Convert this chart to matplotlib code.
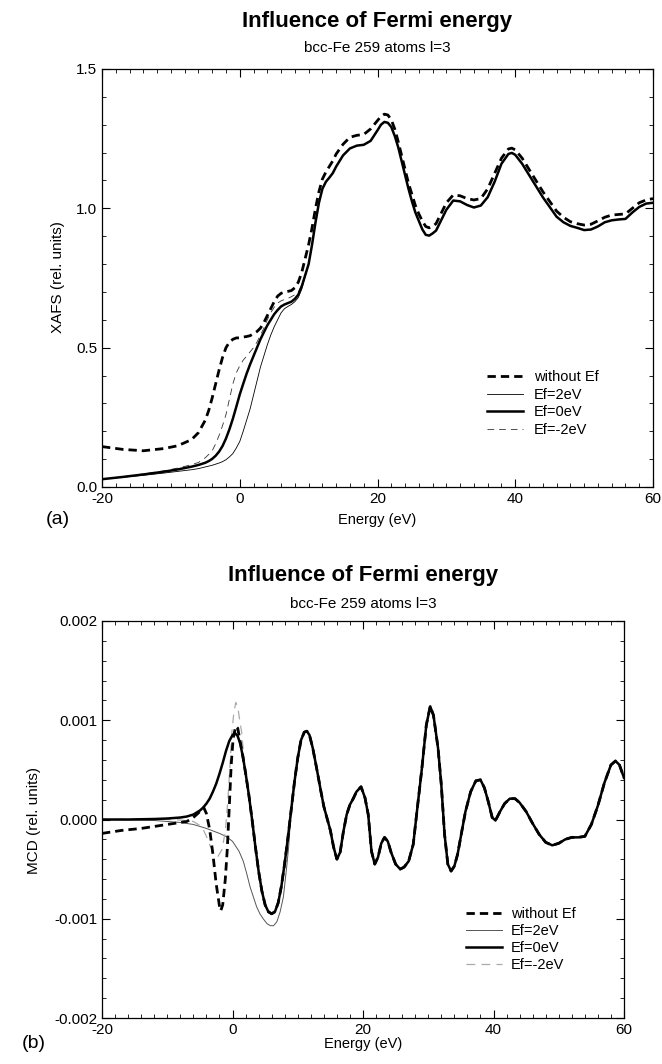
import matplotlib
matplotlib.use("Agg")
import matplotlib.pyplot as plt
from matplotlib.ticker import MultipleLocator, FormatStrFormatter

plt.rcParams['font.family'] = ['Liberation Sans', 'DejaVu Sans']
plt.rcParams['axes.unicode_minus'] = False

# ---- (a) XAFS data ----
# energies where the curves differ
e_lo = [-20, -17, -14, -11, -9, -7, -6, -5, -4.5, -4, -3.5, -3, -2.5, -2, -1.5, -1, -0.5,
        0, 0.5, 1, 1.5, 2, 2.5, 3, 3.5, 4, 4.5, 5, 5.5, 6, 6.5, 7, 7.5, 8, 8.5, 9, 9.5]
# energies where the Ef curves coincide
e_hi = [10, 10.5, 11, 11.5, 12, 12.5, 13, 13.5, 14, 15, 16, 17, 18, 19, 20, 20.5, 21, 21.5,
        22, 22.5, 23, 23.5, 24, 24.5, 25, 25.5, 26, 26.5, 27, 27.5, 28, 28.5, 29, 29.5, 30,
        31, 32, 33, 34, 35, 36, 37, 38, 39, 39.5, 40, 41, 42, 43, 44, 45, 46, 47, 48, 49,
        50, 51, 52, 53, 54, 55, 56, 57, 58, 59, 60]

xafs_noef_lo = [0.145, 0.135, 0.130, 0.138, 0.148, 0.170, 0.195, 0.240, 0.275, 0.320, 0.370,
                0.420, 0.465, 0.500, 0.520, 0.530, 0.535, 0.535, 0.538, 0.540, 0.543, 0.550,
                0.558, 0.570, 0.590, 0.615, 0.640, 0.665, 0.685, 0.695, 0.700, 0.702, 0.705,
                0.715, 0.735, 0.770, 0.820]
xafs_noef_hi = [0.870, 0.930, 1.000, 1.060, 1.105, 1.130, 1.150, 1.170, 1.195, 1.230, 1.255,
                1.262, 1.265, 1.285, 1.315, 1.330, 1.338, 1.335, 1.318, 1.285, 1.240, 1.190,
                1.140, 1.090, 1.050, 1.010, 0.980, 0.955, 0.935, 0.930, 0.935, 0.945, 0.970,
                0.995, 1.020, 1.048, 1.045, 1.035, 1.030, 1.035, 1.070, 1.125, 1.180, 1.213,
                1.216, 1.210, 1.180, 1.140, 1.100, 1.060, 1.025, 0.990, 0.968, 0.952, 0.945,
                0.940, 0.943, 0.955, 0.968, 0.976, 0.978, 0.980, 1.000, 1.020, 1.030, 1.035]

xafs_ef2_lo = [0.028, 0.035, 0.042, 0.050, 0.056, 0.062, 0.066, 0.072, 0.075, 0.078, 0.082,
               0.086, 0.091, 0.098, 0.108, 0.120, 0.140, 0.163, 0.200, 0.240, 0.280, 0.330,
               0.380, 0.430, 0.470, 0.510, 0.545, 0.575, 0.600, 0.625, 0.640, 0.648, 0.655,
               0.665, 0.680, 0.710, 0.755]
xafs_ef0_lo = [0.028, 0.036, 0.045, 0.055, 0.063, 0.073, 0.079, 0.087, 0.093, 0.101, 0.112,
               0.127, 0.147, 0.174, 0.207, 0.245, 0.288, 0.332, 0.370, 0.407, 0.440, 0.470,
               0.500, 0.530, 0.555, 0.580, 0.600, 0.620, 0.635, 0.648, 0.655, 0.660, 0.665,
               0.675, 0.690, 0.720, 0.760]
xafs_efm2_lo = [0.028, 0.037, 0.047, 0.058, 0.068, 0.080, 0.088, 0.105, 0.117, 0.130, 0.155,
                0.185, 0.220, 0.260, 0.315, 0.370, 0.410, 0.435, 0.455, 0.470, 0.485, 0.500,
                0.520, 0.545, 0.570, 0.600, 0.625, 0.645, 0.660, 0.668, 0.673, 0.677, 0.683,
                0.690, 0.700, 0.725, 0.760]
xafs_ef_hi = [0.800, 0.870, 0.950, 1.020, 1.070, 1.095, 1.110, 1.126, 1.150, 1.190, 1.215,
              1.225, 1.228, 1.242, 1.280, 1.300, 1.310, 1.307, 1.292, 1.260, 1.220, 1.170,
              1.120, 1.070, 1.025, 0.985, 0.955, 0.925, 0.905, 0.902, 0.910, 0.920, 0.945,
              0.970, 0.995, 1.028, 1.025, 1.012, 1.003, 1.010, 1.040, 1.095, 1.160, 1.195,
              1.199, 1.192, 1.160, 1.120, 1.080, 1.040, 1.005, 0.970, 0.950, 0.937, 0.930,
              0.922, 0.924, 0.935, 0.950, 0.957, 0.960, 0.962, 0.985, 1.005, 1.017, 1.020]

# ---- (b) MCD data (units of 1e-3) ----
e_mcd = [-20, -16, -12, -10, -8, -7, -6, -5, -4.5, -4, -3.5, -3, -2.5, -2, -1.5, -1, -0.5,
         0, 0.4, 0.8, 1.2, 1.6, 2, 2.5, 3, 3.5, 4, 4.5, 5, 5.5, 6, 6.5, 7, 7.5, 8, 8.5, 9,
         9.5, 10, 10.5, 11, 11.4, 11.8, 12.3, 13, 13.5, 14, 14.5, 15, 15.5, 16, 16.5, 17,
         17.5, 18, 18.5, 19, 19.7, 20.3, 20.8, 21.3, 21.8, 22.3, 22.8, 23.3, 23.8, 24.3, 25,
         25.7, 26.3, 27, 27.7, 28.3, 29, 29.7, 30.3, 30.8, 31.5, 32, 32.5, 33, 33.5, 34, 34.5,
         35, 35.7, 36.5, 37.3, 38, 38.6, 39.2, 39.8, 40.3, 41, 41.7, 42.5, 43.3, 44, 45, 46,
         47, 48, 49, 50, 51, 52, 53, 54, 55, 56, 57, 58, 58.7, 59.3, 60]
mcd_ef0 = [0.0, 0.0, 0.005, 0.01, 0.02, 0.03, 0.05, 0.09, 0.12, 0.16, 0.21, 0.28, 0.36, 0.46,
           0.57, 0.69, 0.79, 0.85, 0.87, 0.84, 0.76, 0.63, 0.47, 0.25, 0.0, -0.27, -0.52,
           -0.72, -0.86, -0.93, -0.95, -0.93, -0.84, -0.67, -0.44, -0.18, 0.10, 0.38, 0.62,
           0.80, 0.88, 0.89, 0.85, 0.72, 0.48, 0.30, 0.13, 0.01, -0.11, -0.28, -0.40, -0.33,
           -0.12, 0.05, 0.15, 0.21, 0.28, 0.33, 0.22, 0.05, -0.32, -0.45, -0.38, -0.24, -0.18,
           -0.22, -0.33, -0.45, -0.50, -0.48, -0.42, -0.25, 0.10, 0.50, 0.95, 1.14, 1.05, 0.72,
           0.35, -0.15, -0.45, -0.52, -0.47, -0.35, -0.17, 0.08, 0.28, 0.39, 0.40, 0.32, 0.18,
           0.02, -0.01, 0.08, 0.16, 0.21, 0.21, 0.17, 0.08, -0.04, -0.15, -0.23, -0.26, -0.24,
           -0.20, -0.18, -0.18, -0.17, -0.05, 0.14, 0.37, 0.55, 0.59, 0.55, 0.42]

# low-energy parts of the other curves (they join mcd_ef0 afterwards)
e_noef = [-20, -17, -14, -11, -8, -7, -6, -5, -4.4, -4, -3.5, -3, -2.5, -2, -1.8, -1.5, -1.1,
          -0.8, -0.5, -0.2, 0.1, 0.5, 0.8, 1.2, 1.6]
mcd_noef = [-0.14, -0.11, -0.09, -0.06, -0.03, -0.02, 0.02, 0.08, 0.12, 0.06, -0.10, -0.35,
            -0.65, -0.87, -0.92, -0.86, -0.60, -0.30, 0.12, 0.55, 0.82, 0.94, 0.92, 0.78, 0.63]

e_efm2 = [-20, -12, -8, -6, -5, -4.5, -4, -3.4, -2.8, -2.2, -1.6, -1.1, -0.7, -0.4, -0.1,
          0.2, 0.5, 0.8, 1.1, 1.4, 1.7, 2.0]
mcd_efm2 = [0.0, 0.005, -0.005, -0.02, -0.06, -0.10, -0.17, -0.27, -0.34, -0.37, -0.30, -0.12,
            0.20, 0.53, 0.88, 1.07, 1.18, 1.14, 1.00, 0.88, 0.66, 0.47]

e_ef2 = [-20, -12, -8, -6, -4, -2, -1, 0, 1, 1.65, 2.2, 2.7, 3.2, 3.7, 4.2, 4.7, 5.3, 5.8,
         6.3, 6.8, 7.3, 7.8, 8.3, 8.6, 9.0]
mcd_ef2 = [0.0, -0.01, -0.03, -0.05, -0.09, -0.14, -0.17, -0.22, -0.32, -0.42, -0.55, -0.68,
           -0.78, -0.88, -0.95, -1.00, -1.05, -1.07, -1.07, -1.03, -0.93, -0.78, -0.48, -0.28,
           0.10]

legend_labels = ["without Ef", "Ef=2eV", "Ef=0eV", "Ef=-2eV"]
title = "Influence of Fermi energy"
subtitle = "bcc-Fe 259 atoms l=3"


def join_ef0(e_part, v_part):
    # continue a low-energy part with the common Ef=0 curve
    e = list(e_part)
    v = list(v_part)
    for ei, vi in zip(e_mcd, mcd_ef0):
        if ei > e_part[-1]:
            e.append(ei)
            v.append(vi)
    return e, [x * 1e-3 for x in v]


W, H = 662, 1064
fig = plt.figure(figsize=(W / 100, H / 100), dpi=100)


def px_axes(l, t, r, b):
    return fig.add_axes([l / W, 1 - b / H, (r - l) / W, (b - t) / H])


def style(ax):
    ax.tick_params(which='both', direction='in', top=True, right=True, labelsize=11)
    ax.tick_params(which='major', length=6, width=0.8)
    ax.tick_params(which='minor', length=3, width=0.6)
    for s in ax.spines.values():
        s.set_linewidth(0.9)
    ax.xaxis.set_major_locator(MultipleLocator(20))
    ax.xaxis.set_minor_locator(MultipleLocator(2))


thick_dash = dict(color='black', lw=2.0, dashes=(3.0, 1.8))

# ---- panel (a) ----
ax1 = px_axes(102, 69, 653, 487)
ax1.plot(e_lo + e_hi, xafs_noef_lo + xafs_noef_hi, label=legend_labels[0], zorder=3,
         **thick_dash)
ax1.plot(e_lo + e_hi, xafs_ef2_lo + xafs_ef_hi, color='black', lw=0.6, zorder=2,
         label=legend_labels[1])
ax1.plot(e_lo + e_hi, xafs_ef0_lo + xafs_ef_hi, color='black', lw=1.8, zorder=4,
         label=legend_labels[2])
ax1.plot(e_lo + e_hi, xafs_efm2_lo + xafs_ef_hi, color='#333333', lw=0.6, dashes=(8, 6),
         zorder=2, label=legend_labels[3])
ax1.set_xlim(-20, 60)
ax1.set_ylim(0, 1.5)
style(ax1)
ax1.yaxis.set_major_locator(MultipleLocator(0.5))
ax1.yaxis.set_minor_locator(MultipleLocator(0.1))
ax1.yaxis.set_major_formatter(FormatStrFormatter('%.1f'))
ax1.legend(loc='upper left', bbox_to_anchor=(487 / W, 1 - 370 / H),
           bbox_transform=fig.transFigure, frameon=False, fontsize=10.5,
           handlelength=2.5, handletextpad=0.7, labelspacing=0.25, borderpad=0,
           borderaxespad=0)

# ---- panel (b) ----
ax2 = px_axes(102, 621, 624, 1018)
e, v = join_ef0(e_noef, mcd_noef)
ax2.plot(e, v, label=legend_labels[0], zorder=3, **thick_dash)
e, v = join_ef0(e_ef2, mcd_ef2)
ax2.plot(e, v, color='#555555', lw=0.7, zorder=2, label=legend_labels[1])
ax2.plot(e_mcd, [x * 1e-3 for x in mcd_ef0], color='black', lw=1.8, zorder=4,
         label=legend_labels[2])
e, v = join_ef0(e_efm2, mcd_efm2)
ax2.plot(e, v, color='#aaaaaa', lw=0.9, dashes=(7, 5), zorder=2, label=legend_labels[3])
ax2.set_xlim(-20, 60)
ax2.set_ylim(-0.002, 0.002)
style(ax2)
ax2.yaxis.set_major_locator(MultipleLocator(0.001))
ax2.yaxis.set_minor_locator(MultipleLocator(0.0002))
ax2.yaxis.set_major_formatter(FormatStrFormatter('%.3f'))
ax2.legend(loc='upper left', bbox_to_anchor=(466 / W, 1 - 907 / H),
           bbox_transform=fig.transFigure, frameon=False, fontsize=10.5,
           handlelength=2.5, handletextpad=0.6, labelspacing=0.2, borderpad=0,
           borderaxespad=0)

# ---- texts ----
fig.text(377 / W, 1 - 22 / H, title, ha='center', va='center', fontsize=16, fontweight='bold')
fig.text(377 / W, 1 - 48 / H, subtitle, ha='center', va='center', fontsize=11)
fig.text(377 / W, 1 - 520 / H, "Energy (eV)", ha='center', va='center', fontsize=10.5)
fig.text(58 / W, 1 - 277 / H, "XAFS (rel. units)", ha='center', va='center', rotation=90,
         fontsize=11)
fig.text(58 / W, 1 - 520 / H, "(a)", ha='center', va='center', fontsize=14)

fig.text(363 / W, 1 - 575 / H, title, ha='center', va='center', fontsize=16, fontweight='bold')
fig.text(363 / W, 1 - 604 / H, subtitle, ha='center', va='center', fontsize=11)
fig.text(363 / W, 1 - 1044 / H, "Energy (eV)", ha='center', va='center', fontsize=10.5)
fig.text(34 / W, 1 - 820 / H, "MCD (rel. units)", ha='center', va='center', rotation=90,
         fontsize=11)
fig.text(34 / W, 1 - 1044 / H, "(b)", ha='center', va='center', fontsize=14)

fig.savefig("out.png", dpi=100)
